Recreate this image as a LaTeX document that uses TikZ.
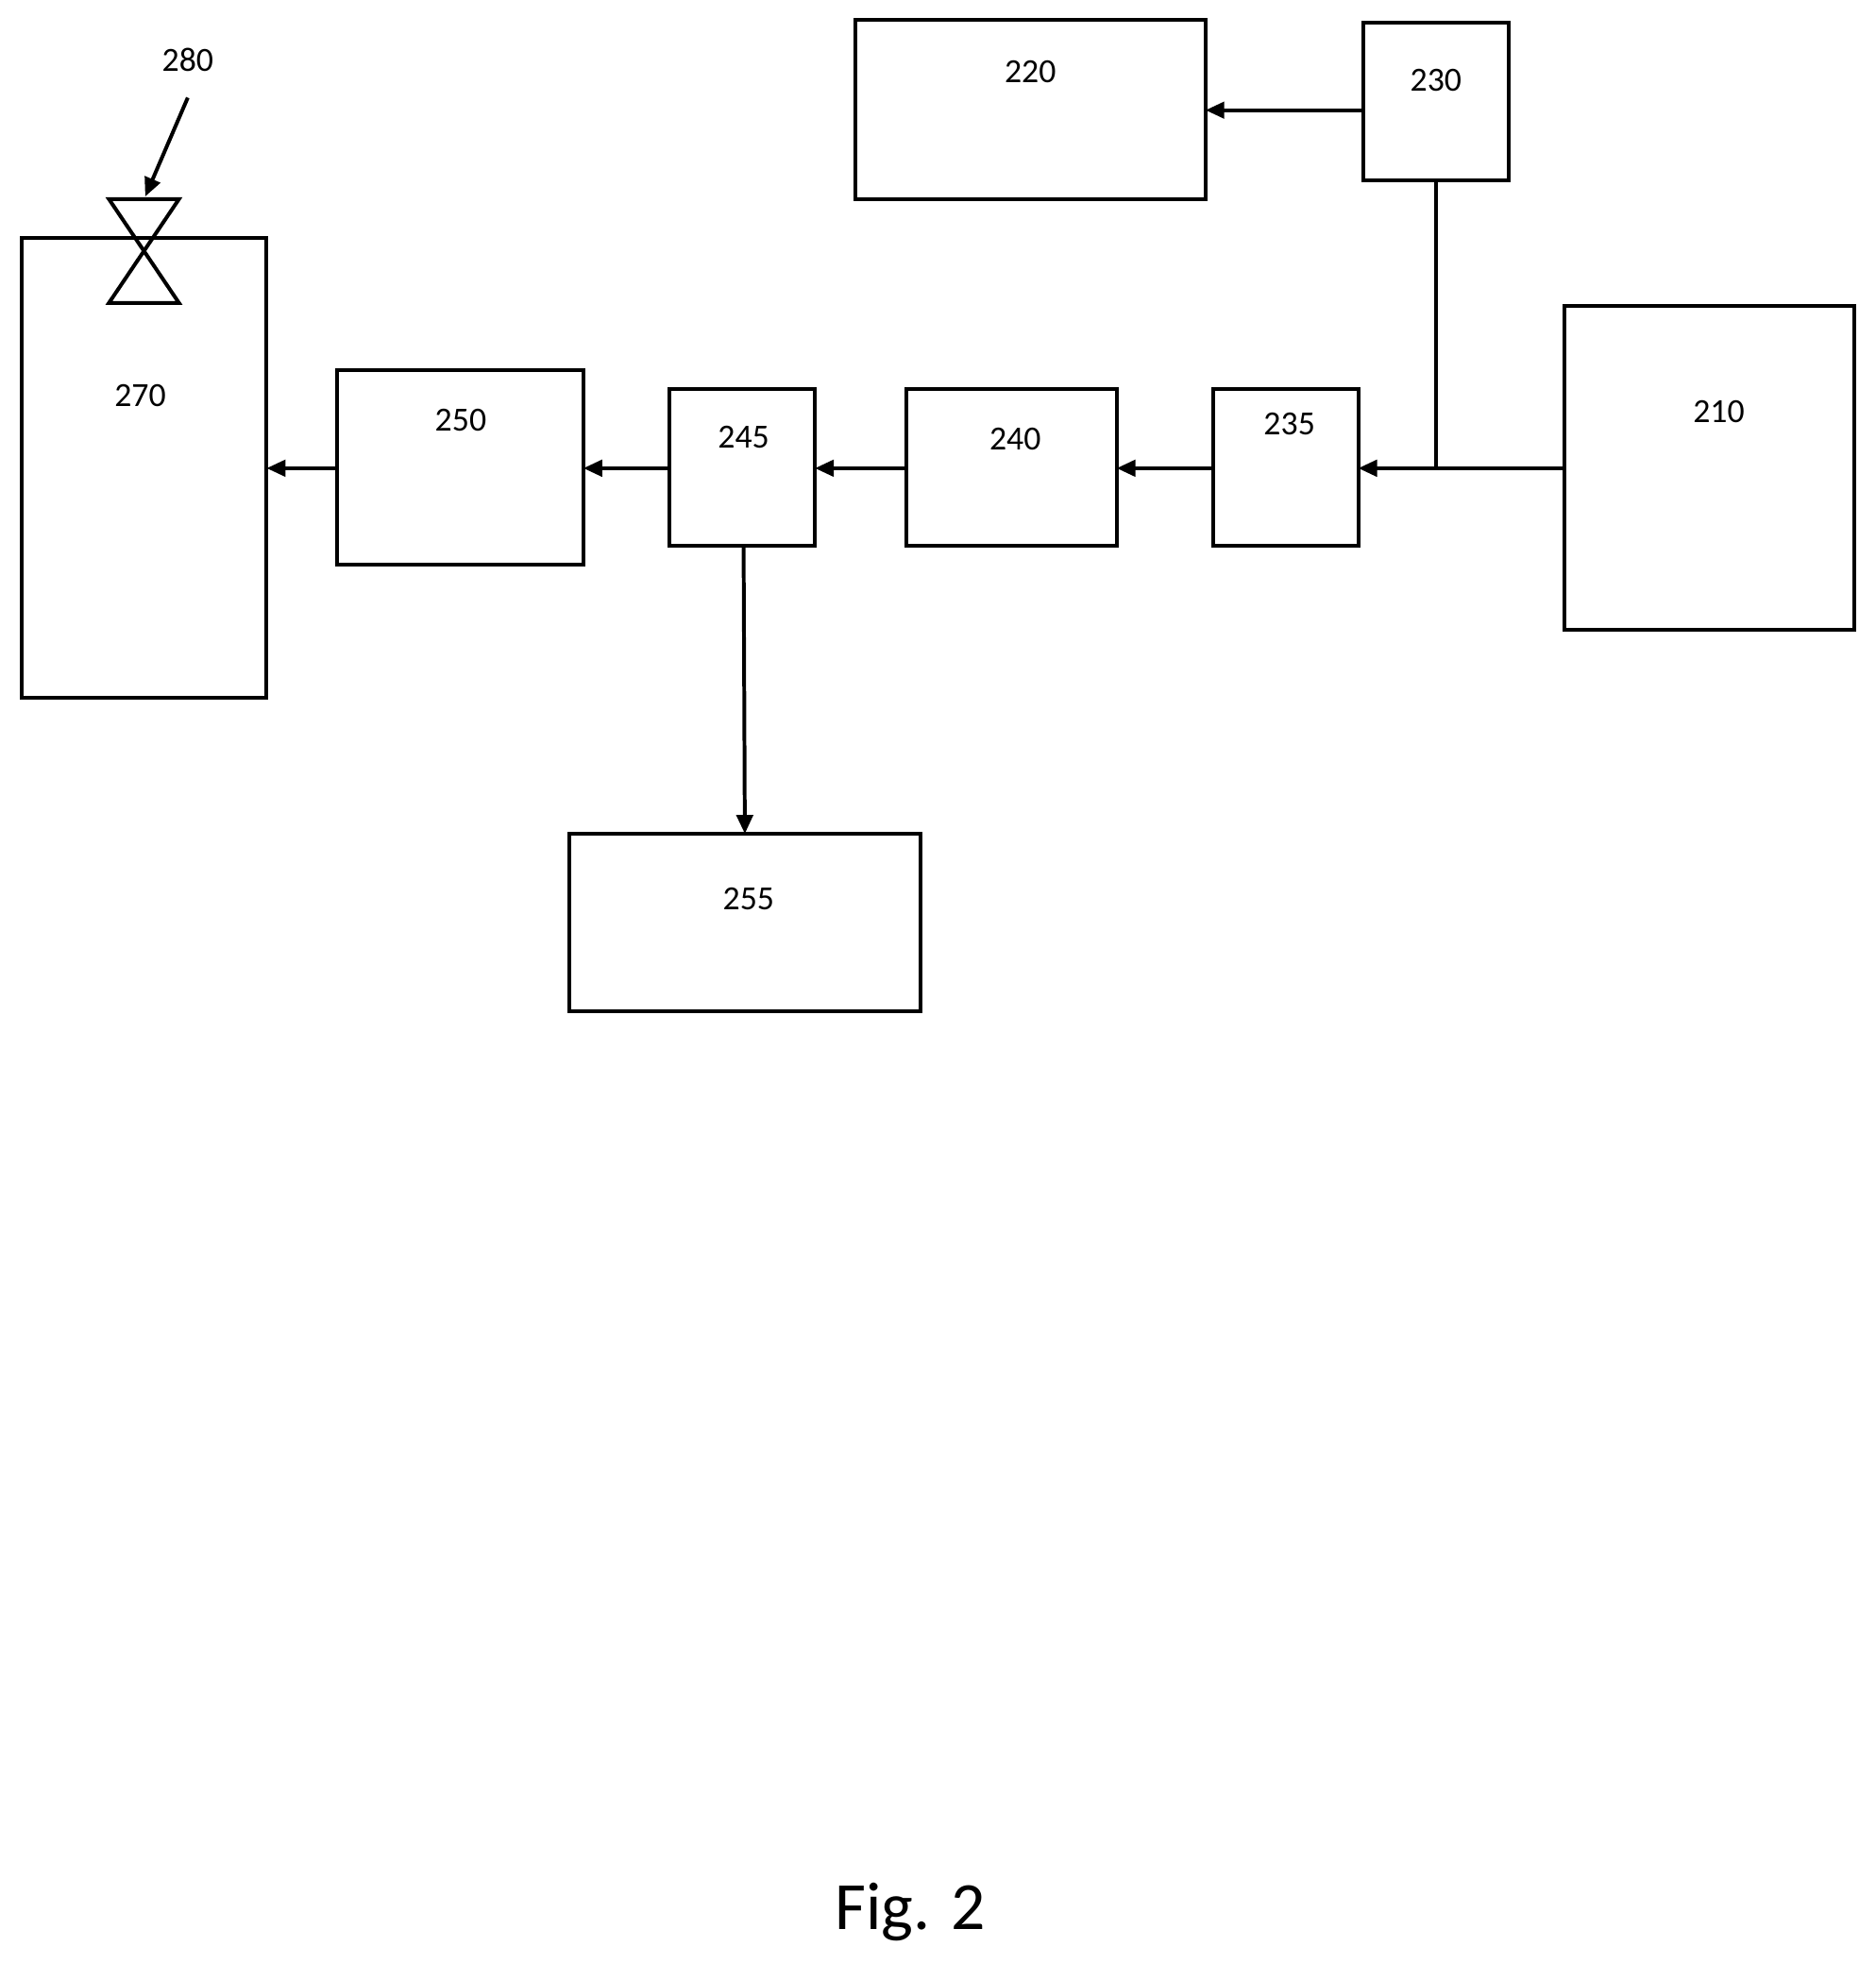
\documentclass[tikz,border=0pt]{standalone}
\usepackage{fontspec}
\setmainfont{Carlito}
\usetikzlibrary{arrows.meta}
\begin{document}
\begin{tikzpicture}[x=1pt,y=-1pt,line width=3pt,
  box/.style={draw,line width=3pt},
  lbl/.style={font=\fontsize{27}{32}\selectfont},
  arr/.style={-{Triangle[length=15pt,width=13pt]},line width=3pt}]
\useasboundingbox (0,0) rectangle (1498,1568);
\draw[box] (683,16) rectangle (963,159); \node[lbl] (t220) at (823,57) {220};
\draw[box] (1089,18) rectangle (1205,144); \node[lbl] (t230) at (1147,64) {230};
\draw[box] (1250,244) rectangle (1481,503); \node[lbl] (t210) at (1373,329) {210};
\draw[box] (969,311) rectangle (1085,436); \node[lbl] (t235) at (1030,339) {235};
\draw[box] (724,311) rectangle (892,436); \node[lbl] (t240) at (811,351) {240};
\draw[box] (535,311) rectangle (651,436); \node[lbl] (t245) at (594,349) {245};
\draw[box] (269,296) rectangle (466,451); \node[lbl] (t250) at (368,336) {250};
\draw[box] (17,190) rectangle (213,557); \node[lbl] (t270) at (112,316) {270};
\draw[box] (455,666) rectangle (735,808); \node[lbl] (t255) at (598,718) {255};
\node[lbl] (t280) at (150,48) {280};
\node[font=\fontsize{54}{60}\selectfont] (fig) at (727,1527) {Fig. 2};
% valve
\draw (87,159) -- (143,159) -- (87,242) -- (143,242) -- cycle;
\draw[arr] (150,78) -- (116,157);
% connectors
\draw[arr] (1089,88) -- (963,88);
\draw (1147,144) -- (1147,374);
\draw[arr] (1250,374) -- (1085,374);
\draw[arr] (969,374) -- (892,374);
\draw[arr] (724,374) -- (651,374);
\draw[arr] (535,374) -- (466,374);
\draw[arr] (269,374) -- (213,374);
\draw[arr] (594,436) -- (595,666);
\end{tikzpicture}
\end{document}
